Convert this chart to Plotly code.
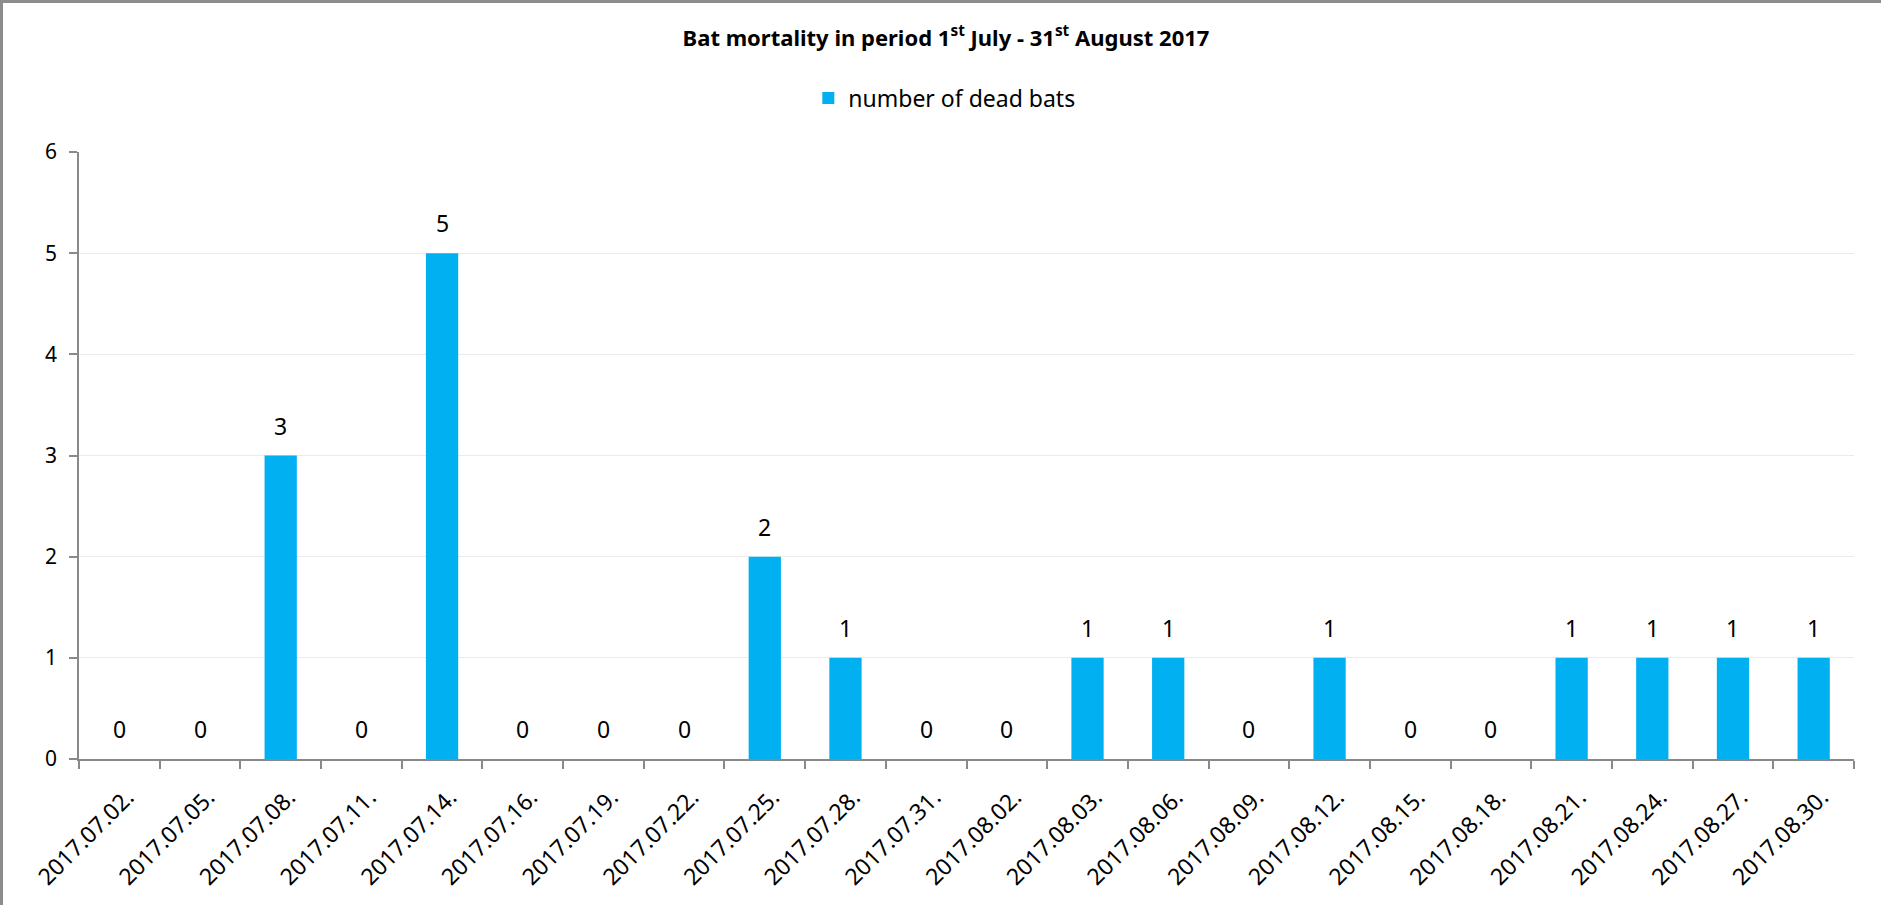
import plotly.graph_objects as go

dates = ["2017.07.02.", "2017.07.05.", "2017.07.08.", "2017.07.11.", "2017.07.14.",
         "2017.07.16.", "2017.07.19.", "2017.07.22.", "2017.07.25.", "2017.07.28.",
         "2017.07.31.", "2017.08.02.", "2017.08.03.", "2017.08.06.", "2017.08.09.",
         "2017.08.12.", "2017.08.15.", "2017.08.18.", "2017.08.21.", "2017.08.24.",
         "2017.08.27.", "2017.08.30."]
dead_bats = [0, 0, 3, 0, 5, 0, 0, 0, 2, 1, 0, 0, 1, 1, 0, 1, 0, 0, 1, 1, 1, 1]
y_ticks = [0, 1, 2, 3, 4, 5, 6]

W, H = 1881, 905
L, R, T, B = 79, 27, 152, 146
pw, ph = W - L - R, H - T - B

FONT = "Noto Sans"
fig = go.Figure()
fig.add_trace(go.Bar(
    x=dates, y=dead_bats, name="number of dead bats",
    marker=dict(color="#00B0F0", line=dict(width=0)),
    showlegend=True,
))

for d, v in zip(dates, dead_bats):
    fig.add_annotation(x=d, y=v, text=str(v), showarrow=False, yanchor="bottom",
                       yshift=12, font=dict(family=FONT, size=23, color="#000000"))

fig.update_layout(
    width=W, height=H,
    margin=dict(l=L, r=R, t=T, b=B, autoexpand=False),
    paper_bgcolor="white", plot_bgcolor="white",
    bargap=0.6,
    font=dict(family=FONT, size=20, color="#000000"),
    title=dict(text="<b>Bat mortality in period 1<sup>st</sup> July - 31<sup>st</sup> August 2017</b>",
               x=946 / W, xanchor="center", y=1 - 38 / H, yanchor="middle",
               font=dict(family=FONT, size=22, color="#000000")),
    legend=dict(orientation="h", x=917 / W, xref="paper", xanchor="center",
                y=1 + (T - 98) / ph, yanchor="middle",
                font=dict(family=FONT, size=23), itemwidth=30),
    xaxis=dict(type="category", tickson="boundaries", ticks="outside", ticklen=8,
               tickcolor="#898989", tickwidth=1.5, showline=True, linecolor="#898989",
               linewidth=1.5, tickangle=-45, showgrid=False,
               ticklabelstandoff=14, ticklabelshift=8,
               tickfont=dict(family=FONT, size=23)),
    yaxis=dict(range=[0, 6], tickvals=y_ticks, ticks="outside", ticklen=8,
               tickcolor="#898989", tickwidth=1.5, showline=True, linecolor="#898989",
               linewidth=1.5, gridcolor="#EBEBEB", gridwidth=1.2, zeroline=False,
               tickfont=dict(family=FONT, size=21), ticklabelstandoff=8),
    shapes=[
        dict(type="line", xref="paper", yref="paper", x0=-(L - 1) / pw, x1=(W - L) / pw,
             y0=1 + (T - 1.5) / ph, y1=1 + (T - 1.5) / ph, line=dict(color="#8C8C8C", width=3)),
        dict(type="line", xref="paper", yref="paper", x0=-(L - 1.5) / pw, x1=-(L - 1.5) / pw,
             y0=-B / ph, y1=1 + T / ph, line=dict(color="#8C8C8C", width=3)),
    ],
)

fig.write_html("out.html", config={"displayModeBar": False},
               post_script="document.body.style.margin='0';")
